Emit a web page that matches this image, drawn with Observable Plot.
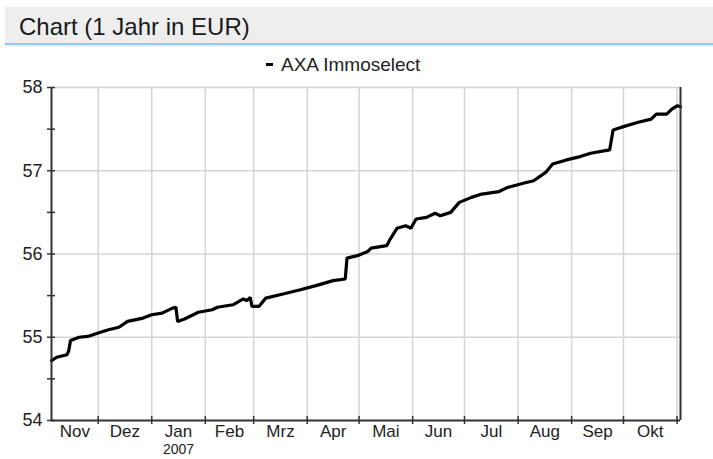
<!DOCTYPE html>
<html>
<head>
<meta charset="utf-8">
<script src="https://cdn.jsdelivr.net/npm/d3@7"></script>
<script src="https://cdn.jsdelivr.net/npm/@observablehq/plot@0.6"></script>
<style>
  html, body { margin: 0; padding: 0; background: #fff; }
  body { width: 713px; height: 459px; overflow: hidden; font-family: "Liberation Sans", Arial, sans-serif; }
  #head { position: relative; width: 713px; height: 75px; }
  #bar { position: absolute; left: 5px; top: 7px; width: 708px; height: 36px; background: #eeeeee;
         border-bottom: 2px solid #93c6f0; box-shadow: 0 2px 0 #eeeeee; }
  #title { position: absolute; left: 14px; top: 8px; font-size: 24px; line-height: 24px; color: #1a1a1a; white-space: nowrap; }
  #legend { position: absolute; left: 266px; top: 56px; font-size: 19px; line-height: 18px; color: #222; white-space: nowrap; }
  #legend .sw { display: inline-block; width: 7px; height: 3px; background: #000; vertical-align: middle; margin-right: 8px; position: relative; top: -1px; }
  #chart svg { display: block; }
</style>
</head>
<body>
<div id="head">
  <div id="bar"><span id="title">Chart (1 Jahr in EUR)</span></div>
  <div id="legend"><span class="sw"></span>AXA Immoselect</div>
</div>
<div id="chart"></div>
<script>
// ---- data ----
const seriesName = "AXA Immoselect";
const dates = [
  "2006-11-04","2006-11-07","2006-11-13","2006-11-14","2006-11-15","2006-11-20","2006-11-25",
  "2006-12-01","2006-12-07","2006-12-13","2006-12-18","2006-12-27",
  "2007-01-01","2007-01-07","2007-01-13","2007-01-15","2007-01-16","2007-01-20","2007-01-28",
  "2007-02-05","2007-02-08","2007-02-17","2007-02-23","2007-02-25","2007-02-27","2007-02-28",
  "2007-03-04","2007-03-08","2007-03-18","2007-03-28",
  "2007-04-06","2007-04-16","2007-04-23","2007-04-24","2007-04-30",
  "2007-05-06","2007-05-08","2007-05-17","2007-05-19","2007-05-23","2007-05-28","2007-05-31",
  "2007-06-03","2007-06-09","2007-06-14","2007-06-17","2007-06-23","2007-06-28",
  "2007-07-05","2007-07-11","2007-07-21","2007-07-26",
  "2007-08-04","2007-08-10","2007-08-17","2007-08-21","2007-08-29",
  "2007-09-06","2007-09-12","2007-09-23","2007-09-25",
  "2007-10-01","2007-10-09","2007-10-17","2007-10-20","2007-10-26","2007-10-29",
  "2007-11-01","2007-11-03"
];
const values = [
  54.72,54.76,54.79,54.84,54.96,55.00,55.01,
  55.05,55.09,55.12,55.19,55.23,
  55.27,55.29,55.35,55.36,55.19,55.22,55.30,
  55.33,55.36,55.39,55.46,55.44,55.48,55.37,
  55.37,55.47,55.52,55.57,
  55.62,55.68,55.70,55.95,55.98,
  56.03,56.07,56.10,56.18,56.31,56.34,56.31,
  56.42,56.44,56.49,56.46,56.50,56.62,
  56.68,56.72,56.75,56.80,
  56.85,56.88,56.98,57.08,57.13,
  57.17,57.21,57.25,57.49,
  57.53,57.58,57.62,57.68,57.68,57.74,
  57.78,57.77
];
const xDomain = ["2006-11-04", "2007-11-03"];
const monthTicks = ["2006-12-01","2007-01-01","2007-02-01","2007-03-01","2007-04-01","2007-05-01",
                    "2007-06-01","2007-07-01","2007-08-01","2007-09-01","2007-10-01","2007-11-01"];
const monthLabels = ["Nov","Dez","Jan","Feb","Mrz","Apr","Mai","Jun","Jul","Aug","Sep","Okt"];
const yearLabel = {month: "Jan", text: "2007"};
const yTicks = [54, 55, 56, 57, 58];
const yMinorTicks = [54.5, 55.5, 56.5, 57.5];
const yDomain = [54, 58];

// ---- build tables ----
const parse = d3.utcParse("%Y-%m-%d");
const data = dates.map((d, i) => ({date: parse(d), value: values[i]}));
const d0 = parse(xDomain[0]), d1 = parse(xDomain[1]);
const ticks = monthTicks.map(parse);
const bounds = [d0, ...ticks];
const labels = monthLabels.map((m, i) => ({
  label: m,
  date: new Date((bounds[i].getTime() + bounds[i + 1].getTime()) / 2)
}));
const yearRow = labels.filter(l => l.label === yearLabel.month).map(l => ({date: l.date, label: yearLabel.text}));
const allYTicks = [...yTicks, ...yMinorTicks];

const grid = "#d4d4d4";
const axisC = "#333333";

const chart = Plot.plot({
  width: 713,
  height: 384,
  marginLeft: 51,
  marginRight: 33,
  marginTop: 12,
  marginBottom: 39,
  style: {fontFamily: "'Liberation Sans', Arial, sans-serif", fontSize: "18px", color: "#222", background: "#fff", overflow: "visible"},
  x: {type: "utc", domain: [d0, d1], axis: null},
  y: {domain: yDomain, axis: null},
  marks: [
    Plot.ruleY(yTicks.filter(v => v > yDomain[0]), {stroke: grid, strokeWidth: 1.5}),
    Plot.ruleX(ticks, {stroke: grid, strokeWidth: 1.5}),
    Plot.line(data, {x: "date", y: "value", stroke: "#000", strokeWidth: 3.2, strokeLinejoin: "miter"}),
    // axis lines + right border
    Plot.ruleX([d0], {stroke: axisC, strokeWidth: 2}),
    Plot.ruleX([d1], {stroke: axisC, strokeWidth: 2}),
    Plot.ruleY([yDomain[0]], {stroke: axisC, strokeWidth: 2}),
    // y tick marks crossing the axis
    Plot.ruleY(allYTicks, {x1: d0, x2: d0, insetLeft: -4, insetRight: -4, stroke: axisC, strokeWidth: 1.5}),
    // x tick marks crossing the axis
    Plot.ruleX(ticks, {y1: yDomain[0], y2: yDomain[0], insetTop: -4, insetBottom: -4, stroke: axisC, strokeWidth: 1.5}),
    // y labels
    Plot.text(yTicks, {x: d0, y: d => d, text: d => String(d), textAnchor: "end", dx: -9, fill: "#222", fontSize: 18}),
    // month labels
    Plot.text(labels, {x: "date", y: yDomain[0], text: "label", dy: 4, lineAnchor: "top", fill: "#222", fontSize: 17}),
    Plot.text(yearRow, {x: "date", y: yDomain[0], text: "label", dy: 24, lineAnchor: "top", fill: "#222", fontSize: 14})
  ]
});
document.getElementById("chart").appendChild(chart);
</script>
</body>
</html>
